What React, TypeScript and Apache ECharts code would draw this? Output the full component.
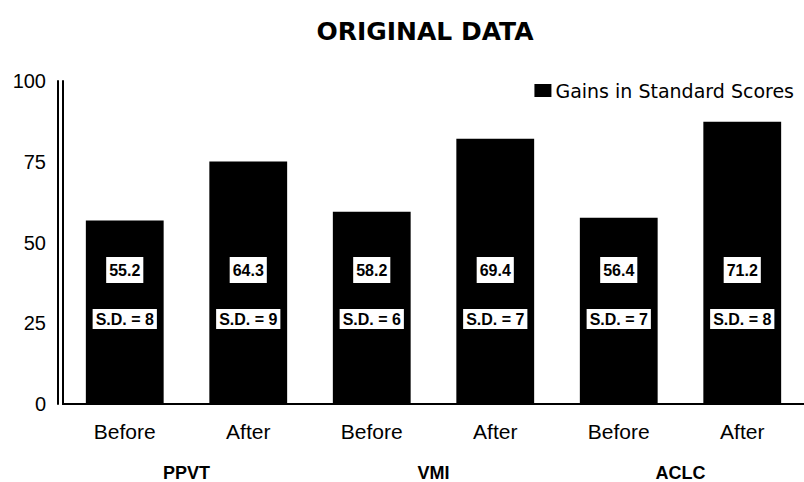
import React, { useEffect, useRef } from "react";
import * as echarts from "echarts";

const categories = ["Before", "After", "Before", "After", "Before", "After"];
const groups = ["PPVT", "VMI", "ACLC"];
const barHeights = [56.8, 75.1, 59.5, 82.1, 57.7, 87.4];
const meanLabels = ["55.2", "64.3", "58.2", "69.4", "56.4", "71.2"];
const sdLabels = ["8", "9", "6", "7", "7", "8"];
const yTicks = [0, 25, 50, 75, 100];

const FONT = "Liberation Sans, Arial, Helvetica, sans-serif";
const WIDE = "DejaVu Sans, Verdana, sans-serif";

export default function App() {
  const ref = useRef<HTMLDivElement>(null);
  useEffect(() => {
    if (!ref.current) return;
    const chart = echarts.init(ref.current, null, { renderer: "svg" });
    chart.setOption({
      animation: false,
      backgroundColor: "#ffffff",
      textStyle: { fontFamily: FONT },
      title: {
        text: "ORIGINAL DATA",
        left: 420,
        textAlign: "center",
        top: 14,
        textStyle: { fontSize: 25, fontWeight: "bold", color: "#000", fontFamily: WIDE },
      },
      legend: {
        right: 5,
        top: 76,
        icon: "rect",
        itemWidth: 17,
        itemHeight: 13,
        itemGap: 4,
        textStyle: { fontSize: 19, color: "#000", fontFamily: WIDE, padding: [0, 0, 0, -1] },
        data: ["Gains in Standard Scores"],
      },
      grid: { left: 63, right: 0, top: 81, bottom: 78 },
      xAxis: [
        {
          type: "category",
          data: categories,
          axisLine: { lineStyle: { color: "#000", width: 2 } },
          axisTick: { show: false },
          axisLabel: { fontSize: 21, color: "#000", margin: 17, fontFamily: FONT },
        },
        {
          type: "category",
          data: groups,
          position: "bottom",
          offset: 5,
          axisLine: { show: true, lineStyle: { color: "#000", width: 2 } },
          axisTick: { show: false },
          axisLabel: { fontSize: 18, fontWeight: "bold", color: "#000", margin: 55, fontFamily: FONT },
        },
      ],
      yAxis: [
        {
          type: "value",
          min: 0,
          max: 100,
          interval: 25,
          axisLine: { show: true, lineStyle: { color: "#000", width: 2 } },
          axisTick: { show: false },
          splitLine: { show: false },
          axisLabel: {
            fontSize: 20,
            color: "#000",
            margin: 17,
            fontFamily: FONT,
            formatter: (v: number) => (yTicks.includes(v) ? String(v) : ""),
          },
        },
        {
          type: "value",
          position: "left",
          offset: 5,
          min: 0,
          max: 100,
          interval: 25,
          axisLine: { show: true, lineStyle: { color: "#000", width: 2 } },
          axisTick: { show: false },
          splitLine: { show: false },
          axisLabel: { show: false },
        },
      ],
      series: [
        {
          name: "Gains in Standard Scores",
          type: "bar",
          xAxisIndex: 0,
          yAxisIndex: 0,
          data: barHeights,
          barCategoryGap: "37%",
          itemStyle: { color: "#000" },
          label: {
            show: true,
            position: "insideBottom",
            distance: 121,
            formatter: (p: any) => meanLabels[p.dataIndex],
            color: "#000",
            backgroundColor: "#fff",
            fontSize: 16,
            fontWeight: "bold",
            fontFamily: FONT,
            padding: [5, 3, 5, 3],
          },
        },
        {
          name: "sd",
          type: "bar",
          xAxisIndex: 0,
          yAxisIndex: 0,
          data: barHeights,
          barGap: "-100%",
          barCategoryGap: "37%",
          itemStyle: { color: "rgba(0,0,0,0)" },
          label: {
            show: true,
            position: "insideBottom",
            distance: 75,
            formatter: (p: any) => "S.D. = " + sdLabels[p.dataIndex],
            color: "#000",
            backgroundColor: "#fff",
            fontSize: 16,
            fontWeight: "bold",
            fontFamily: FONT,
            padding: [2, 3, 2, 3],
          },
          z: 3,
        },
      ],
    });
    return () => chart.dispose();
  }, []);
  return (
    <div
      ref={ref}
      style={{ position: "fixed", left: 0, top: 0, width: 804, height: 482, background: "#fff" }}
    />
  );
}
